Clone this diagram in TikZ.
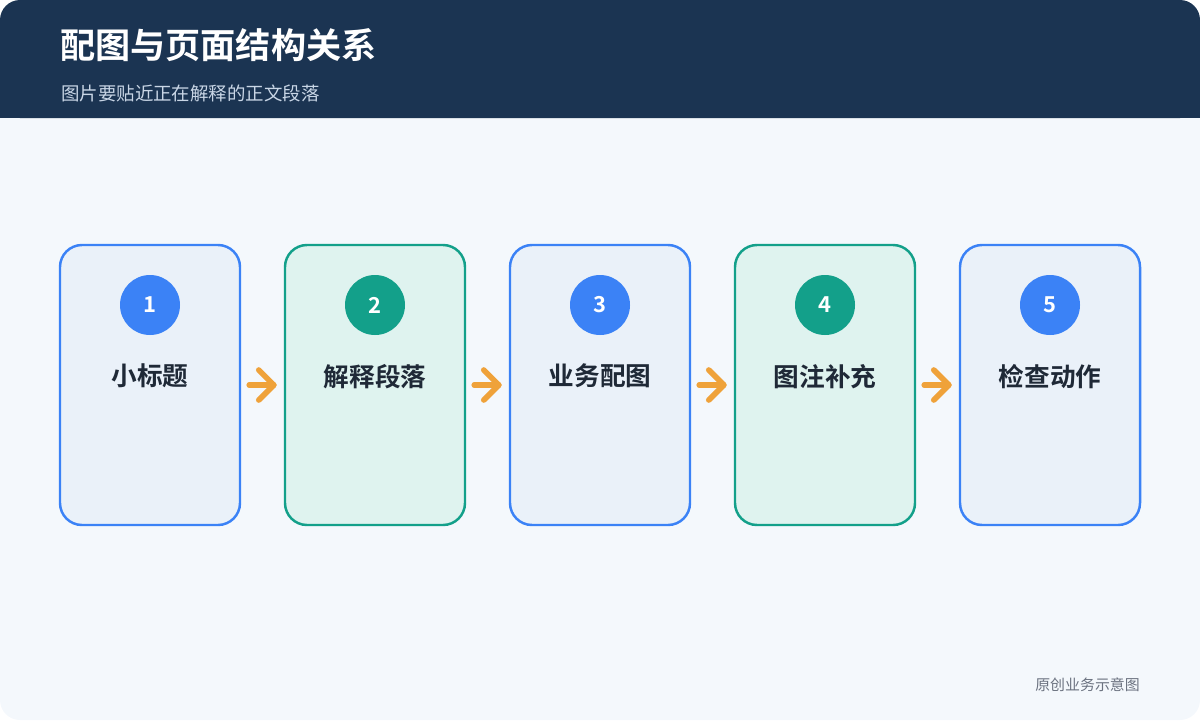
\documentclass[tikz,border=0pt]{standalone}
\usepackage{fontspec}
\setmainfont{Noto Sans CJK SC}[BoldFont={Noto Sans CJK SC Bold}]
\usetikzlibrary{positioning, calc}
\definecolor{navy}{HTML}{1B3452}
\definecolor{bgc}{HTML}{F4F8FC}
\definecolor{blueb}{HTML}{3B82F6}
\definecolor{bluef}{HTML}{EAF1F9}
\definecolor{greenb}{HTML}{13A08A}
\definecolor{greenf}{HTML}{DFF3EF}
\definecolor{ink}{HTML}{1F2937}
\definecolor{arr}{HTML}{EFA23A}
\definecolor{subc}{HTML}{C9D6E6}
\definecolor{foot}{HTML}{6B7280}
\tikzset{
  step/.style={draw=#1b, fill=#1f, line width=1.4pt, rounded corners=0.44cm,
    minimum width=3.6cm, minimum height=5.6cm},
  num/.style={circle, fill=#1b, minimum size=1.2cm, text=white, font=\bfseries\fontsize{12.5}{14}\selectfont},
  lab/.style={text=ink, font=\bfseries\fontsize{14.6}{17}\selectfont},
  flow/.style={draw=arr, line width=3.2pt, line cap=round, line join=round}
}
\begin{document}
\begin{tikzpicture}
\useasboundingbox (0,0) rectangle (24,-14.4);
\fill[bgc, rounded corners=0.4cm] (0,0) rectangle (24,-14.4);
\fill[navy, rounded corners=0.4cm] (0,0) rectangle (24,-2.36);
\fill[navy] (0,-1.5) rectangle (24,-2.36);
\node[anchor=west, text=white, font=\bfseries\fontsize{20}{23}\selectfont] (title) at (1.08,-0.9) {配图与页面结构关系};
\node[anchor=west, text=subc, font=\fontsize{10.5}{12}\selectfont] (sub) at (1.1,-1.86) {图片要贴近正在解释的正文段落};

\node[step=blue] (s1) at (3,-7.7) {};
\node[step=green] (s2) at (7.5,-7.7) {};
\node[step=blue] (s3) at (12,-7.7) {};
\node[step=green] (s4) at (16.5,-7.7) {};
\node[step=blue] (s5) at (21,-7.7) {};

\node[num=blue] (n1) at (3,-6.1) {1};
\node[num=green] (n2) at (7.5,-6.1) {2};
\node[num=blue] (n3) at (12,-6.1) {3};
\node[num=green] (n4) at (16.5,-6.1) {4};
\node[num=blue] (n5) at (21,-6.1) {5};

\node[lab, below=0.45cm of n1] (l1) {小标题};
\node[lab, below=0.45cm of n2] (l2) {解释段落};
\node[lab, below=0.45cm of n3] (l3) {业务配图};
\node[lab, below=0.45cm of n4] (l4) {图注补充};
\node[lab, below=0.45cm of n5] (l5) {检查动作};

% chevron arrows between steps
\draw[flow] ($(s1.east)+(0.16,0)$) -- ($(s2.west)+(-0.2,0)$);
\draw[flow] ($(s2.west)+(-0.5,0.3)$) -- ($(s2.west)+(-0.2,0)$) -- ($(s2.west)+(-0.5,-0.3)$);
\draw[flow] ($(s2.east)+(0.16,0)$) -- ($(s3.west)+(-0.2,0)$);
\draw[flow] ($(s3.west)+(-0.5,0.3)$) -- ($(s3.west)+(-0.2,0)$) -- ($(s3.west)+(-0.5,-0.3)$);
\draw[flow] ($(s3.east)+(0.16,0)$) -- ($(s4.west)+(-0.2,0)$);
\draw[flow] ($(s4.west)+(-0.5,0.3)$) -- ($(s4.west)+(-0.2,0)$) -- ($(s4.west)+(-0.5,-0.3)$);
\draw[flow] ($(s4.east)+(0.16,0)$) -- ($(s5.west)+(-0.2,0)$);
\draw[flow] ($(s5.west)+(-0.5,0.3)$) -- ($(s5.west)+(-0.2,0)$) -- ($(s5.west)+(-0.5,-0.3)$);

\node[anchor=east, text=foot, font=\fontsize{8.5}{10}\selectfont] (note) at (22.92,-13.7) {原创业务示意图};
\end{tikzpicture}
\end{document}
